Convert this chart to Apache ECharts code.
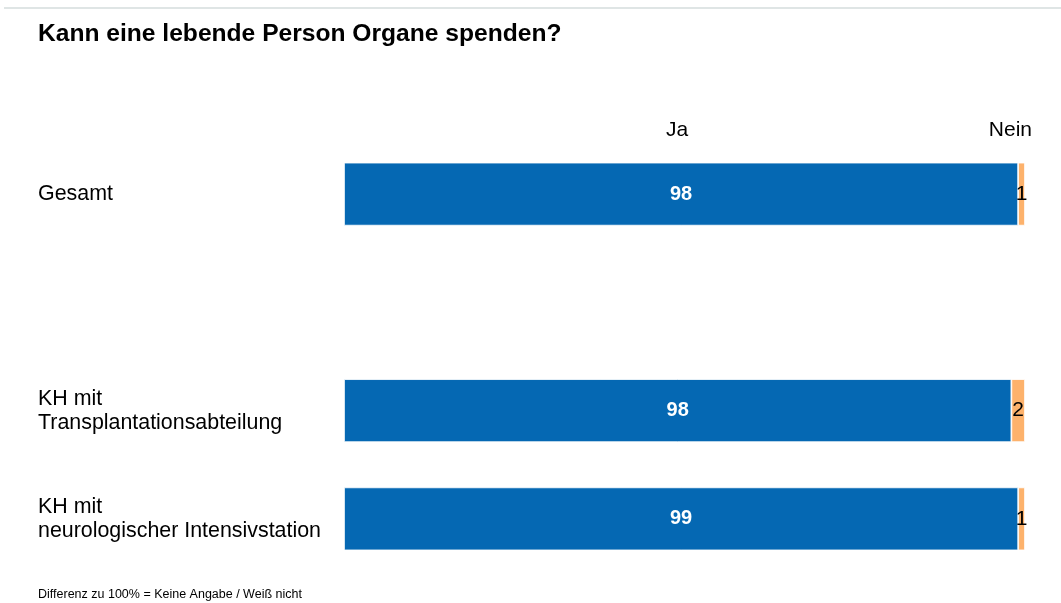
<!DOCTYPE html>
<html>
<head>
<meta charset="utf-8">
<script src="https://cdn.jsdelivr.net/npm/echarts@6/dist/echarts.min.js"></script>
<style>
  html, body { margin: 0; padding: 0; background: #fff; }
  #chart { width: 1061px; height: 603px; }
</style>
</head>
<body>
<div id="chart"></div>
<script>
const titleText = 'Kann eine lebende Person Organe spenden?';
const footnote = 'Differenz zu 100% = Keine Angabe / Weiß nicht';
const seriesNames = ['Ja', 'Nein'];
const categories = ['Gesamt', '', 'KH mit\nTransplantationsabteilung', 'KH mit\nneurologischer Intensivstation'];
const ja = [98, null, 98, 99];
const nein = [1, null, 2, 1];

const FONT = '"Liberation Sans", Arial, Helvetica, sans-serif';

// bars fill the full row: shares normalised to Ja + Nein
const share = (arr) => arr.map((v, i) => (v == null ? null : v / (ja[i] + nein[i]) * 100));

const chart = echarts.init(document.getElementById('chart'), null, { renderer: 'canvas' });
chart.setOption({
  animation: false,
  backgroundColor: '#ffffff',
  textStyle: { fontFamily: FONT },
  title: {
    text: titleText,
    left: 38,
    top: 22,
    padding: 0,
    textStyle: { fontFamily: FONT, fontSize: 24.6, fontWeight: 'bold', color: '#000' }
  },
  grid: { left: 344, right: 36, top: 140, height: 433, containLabel: false },
  xAxis: { type: 'value', min: 0, max: 100, show: false },
  yAxis: {
    type: 'category',
    data: categories,
    inverse: true,
    axisLine: { show: false },
    axisTick: { show: false },
    splitLine: { show: false },
    axisLabel: {
      align: 'left',
      margin: 306,
      fontFamily: FONT,
      fontSize: 21.4,
      lineHeight: 24,
      padding: [3, 0, 0, 0],
      color: '#000'
    }
  },
  series: [
    {
      name: seriesNames[0],
      type: 'bar',
      stack: 'total',
      barWidth: 63,
      data: share(ja),
      itemStyle: { color: '#0568b3', borderColor: '#ffffff', borderWidth: 0.8 },
      label: {
        show: true,
        position: 'inside',
        formatter: (p) => (ja[p.dataIndex] == null ? '' : String(ja[p.dataIndex])),
        color: '#ffffff',
        fontWeight: 'bold',
        fontSize: 20,
        fontFamily: FONT
      }
    },
    {
      name: seriesNames[1],
      type: 'bar',
      stack: 'total',
      barWidth: 63,
      data: share(nein),
      itemStyle: { color: '#fdb26c', borderColor: '#ffffff', borderWidth: 0.8 },
      label: {
        show: true,
        position: 'inside',
        formatter: (p) => (nein[p.dataIndex] == null ? '' : String(nein[p.dataIndex])),
        color: '#000000',
        fontSize: 21,
        fontFamily: FONT
      }
    }
  ],
  graphic: [
    {
      type: 'line',
      shape: { x1: 4, y1: 8, x2: 1061, y2: 8 },
      style: { stroke: '#dfe5e5', lineWidth: 2 },
      silent: true
    },
    {
      type: 'text',
      x: 677, y: 130,
      style: { text: seriesNames[0], font: '21px ' + FONT, fill: '#000', align: 'center', verticalAlign: 'middle' }
    },
    {
      type: 'text',
      x: 1032, y: 130,
      style: { text: seriesNames[1], font: '21px ' + FONT, fill: '#000', align: 'right', verticalAlign: 'middle' }
    },
    {
      type: 'text',
      x: 38, y: 595,
      style: { text: footnote, font: '12.5px ' + FONT, fill: '#000', align: 'left', verticalAlign: 'middle' }
    }
  ]
});
</script>
</body>
</html>
